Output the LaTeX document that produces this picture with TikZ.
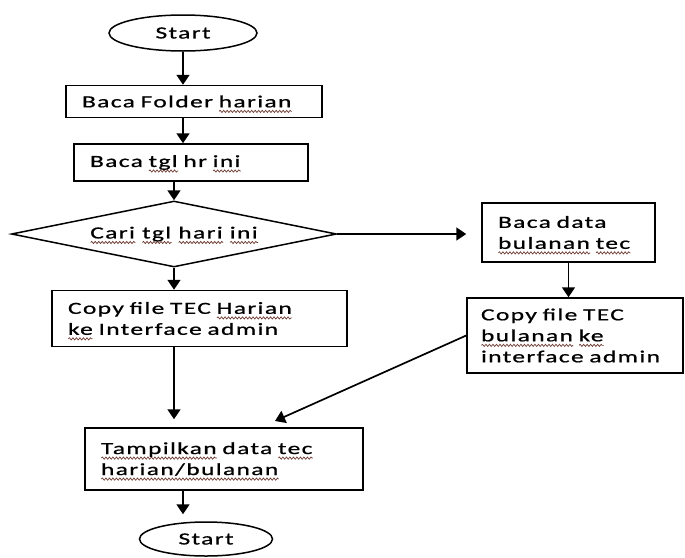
\documentclass[tikz,border=0pt]{standalone}
\usepackage{fontspec}
\setmainfont[FakeStretch=1.5, LetterSpace=8, FakeBold=0.8]{Carlito}
\usetikzlibrary{shapes.geometric,arrows.meta,decorations.pathmorphing}
\definecolor{squig}{RGB}{110,60,50}
\newcommand\sq[1]{\setbox0=\hbox{#1}\leavevmode\rlap{\raisebox{-5.5pt}[0pt][0pt]{\tikz[x=1pt,y=1pt]\draw[squig, line width=0.7pt, decorate, decoration={snake, amplitude=1.1pt, segment length=3.5pt}] (0,0) -- (\wd0,0);}}\box0\relax}

\begin{document}
\begin{tikzpicture}[
x = 1pt, y = -1pt,
font = \fontsize{17}{21}\selectfont,
box/.style = {draw=black, line width=1.5pt, rectangle, align=left, inner xsep=16pt, inner ysep=0pt},
term/.style = {draw=black, line width=1.5pt, ellipse, inner sep=0pt},
decide/.style = {draw=black, line width=1.5pt, diamond, aspect=4.9, inner sep=0pt},
arr/.style = {-{Triangle[length=10pt,width=13pt]}, draw=black, line width=1.7pt},
]
\useasboundingbox (0,0) rectangle (685,557);
\node [term, minimum width=148pt, minimum height=36pt] (n1) at (183,33) {Start};
\node [box, text width=224pt, minimum height=32pt] (n2) at (194,101.5) {Baca Folder \sq{harian}};
\node [box, text width=202pt, minimum height=37pt] (n3) at (191,162.5) {Baca \sq{tgl} hr \sq{ini}};
\node [decide, minimum width=325pt, minimum height=66pt] (n4) at (174,234) {\sq{Cari} \sq{tgl} \sq{hari} \sq{ini}};
\node [box, text width=263pt, minimum height=56pt] (n5) at (199.5,318.5) {Copy file TEC \sq{Harian}\\ \sq{ke} Interface admin};
\node [box, text width=141pt, minimum height=59pt] (n6) at (568.5,232.5) {Baca data\\ \sq{bulanan} \sq{tec}};
\node [box, text width=188pt, inner xsep=14pt, minimum height=75pt] (n7) at (575,335.5) {Copy file TEC\\ \sq{bulanan} \sq{ke}\\ interface admin};
\node [box, text width=246pt, minimum height=62pt] (n8) at (224,459) {\sq{Tampilkan} data \sq{tec}\\ \sq{harian/bulanan}};
\node [term, minimum width=133pt, minimum height=34pt] (n9) at (206,539) {Start};
\coordinate (n8in) at (275,421);

\path[arr] (n1) -- (n1 |- n2.north);
\path[arr] (n2.south -| n1) -- (n1 |- n3.north);
\path[arr] (n3.south -| n4) -- (n4.north);
\path[arr] (n4.south) -- (n4 |- n5.north);
\path[arr, shorten >=15pt] (n4.east) -- (n4.east -| n6.west);
\path[arr] (n6.south) -- (n6.south |- n7.north);
\path[arr, shorten >=8pt] (n5.south -| n4) -- (n4 |- n8.north);
\path[arr] (n7.west) -- (n8in);
\path[arr, shorten >=7pt] (n8.south -| n1) -- (n1 |- n9.north);

\end{tikzpicture}
\end{document}
